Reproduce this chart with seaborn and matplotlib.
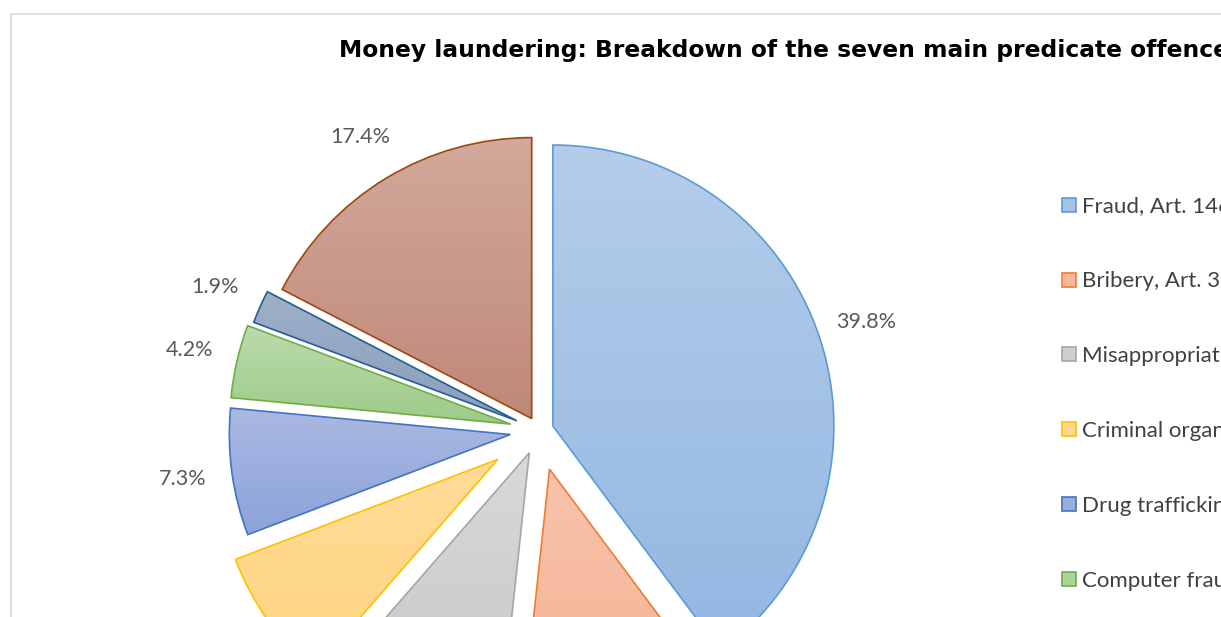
import matplotlib
matplotlib.use("Agg")
import matplotlib.pyplot as plt
from matplotlib.colors import LinearSegmentedColormap
from matplotlib.patches import Patch, Rectangle
import numpy as np
import seaborn as sns

# data (clockwise from 12 o'clock)
title = "Money laundering: Breakdown of the seven main predicate offences"
offences = [
    "Fraud, Art. 146 SCC",
    "Bribery, Art. 322ter SCC",
    "Misappropriation, Art. 138 SCC",
    "Criminal organisation, Art. 260ter SCC",
    "Drug trafficking, Art. 19 NarcA",
    "Computer fraud, Art. 147 SCC",
    "Forgery of a document, Art. 251 SCC",
    "Other",
]
shares = [39.8, 11.9, 9.7, 7.8, 7.3, 4.2, 1.9, 17.4]

# styling (Excel office palette with gradient fills)
edge_colors = ["#5B9BD5", "#ED7D31", "#A5A5A5", "#FFC000", "#4472C4", "#70AD47", "#255E91", "#9E480E"]
fill_top = ["#B4CDEA", "#F8C4AC", "#D9D9D9", "#FFDC98", "#AAB9E2", "#BBDBAD", "#9EAFC8", "#D2A99C"]
fill_bottom = ["#93B7E2", "#F4AE8E", "#C6C6C6", "#FFD480", "#8BA3DA", "#9DCB88", "#8AA0BE", "#BF8878"]
explode = [0.052, 0.142, 0.086, 0.178, 0.103, 0.103, 0.086, 0.05]

W, H = 1221, 617          # output size in px
CX, CY, R = 539, 430.6, 281  # pie centre / radius in px (from top-left)

sns.set_theme(style="white")
plt.rcParams["font.family"] = ["Lato", "DejaVu Sans"]

fig = plt.figure(figsize=(W / 100, H / 100), dpi=100)
ax = fig.add_axes([0, 0, 1, 1])
ax.patch.set_visible(False)

wedges, _, pct_texts = ax.pie(
    shares,
    explode=explode,
    startangle=90,
    counterclock=False,
    colors=["none"] * len(shares),
    autopct="%.1f%%",
    pctdistance=1.175,
    wedgeprops=dict(linewidth=1.2),
    textprops=dict(color="#595959", fontsize=15.5),
)

# vertical gradient inside each slice
for w, top, bottom, edge in zip(wedges, fill_top, fill_bottom, edge_colors):
    w.set_edgecolor(edge)
    w.set_zorder(2)
    x0, y0, x1, y1 = w.get_path().get_extents().extents
    cmap = LinearSegmentedColormap.from_list("grad", [bottom, top])
    im = ax.imshow(np.linspace(0, 1, 256).reshape(-1, 1), cmap=cmap, origin="lower",
                   extent=(x0, x1, y0, y1), aspect="auto", zorder=1)
    im.set_clip_path(w)

ax.set_aspect("auto")
ax.set_xlim(-CX / R, (W - CX) / R)
ax.set_ylim(-(H - CY) / R, CY / R)
ax.axis("off")

# chart area border (only top/left edges are inside the crop)
fig.patches.append(Rectangle((11 / W, -0.2), 1.5, 1.2 - 14 / H, transform=fig.transFigure,
                             fill=False, edgecolor="#D9D9D9", linewidth=1.2))

fig.text(339 / W, 1 - 57 / H, title, ha="left", va="baseline", fontsize=16.8,
         fontweight="bold", family="DejaVu Sans", color="black")

handles = [Patch(facecolor=sns.blend_palette([t, b], 3)[1], edgecolor=e, linewidth=1.2)
           for t, b, e in zip(fill_top, fill_bottom, edge_colors)]
fig.legend(handles, offences, loc="upper left", bbox_to_anchor=(1062.3 / W, 1 - 196.5 / H),
           frameon=False, fontsize=16, handlelength=0.6, handleheight=0.6,
           handletextpad=0.3, labelspacing=2.47, borderpad=0, borderaxespad=0,
           labelcolor="#404040")

fig.savefig("out.png", dpi=100)
